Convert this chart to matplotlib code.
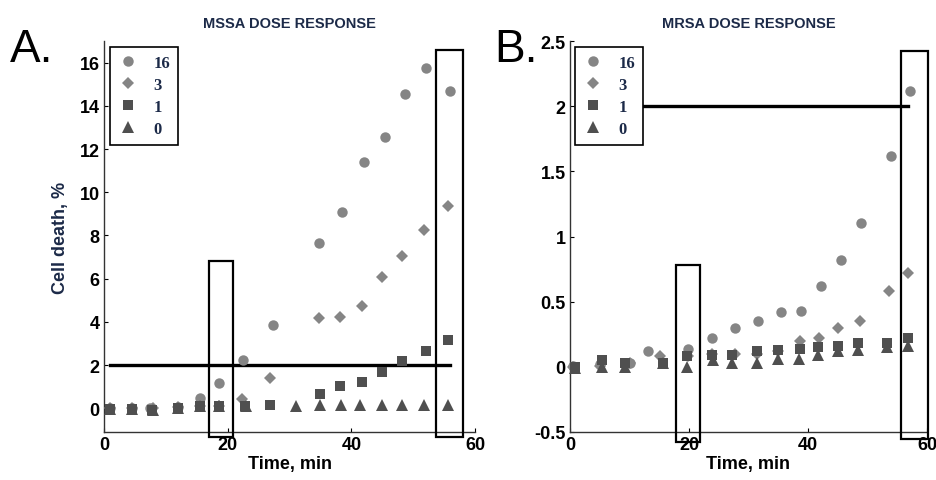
import matplotlib
matplotlib.use("Agg")
import matplotlib.pyplot as plt
from matplotlib.patches import Rectangle

# ---------------- Panel A: MSSA ----------------
a_t16 = [1, 4.5, 7.5, 12, 15.5, 18.6, 22.5, 27.3, 34.8, 38.5, 42.1, 45.5, 48.7, 52.1, 56.0]
a_v16 = [0.0, 0.0, 0.0, 0.05, 0.47, 1.16, 2.23, 3.86, 7.67, 9.07, 11.4, 12.56, 14.56, 15.77, 14.7]
a_t3 = [1, 4.5, 8, 12, 15.5, 18.6, 22.3, 26.9, 34.8, 38.2, 41.7, 45.0, 48.2, 51.8, 55.7]
a_v3 = [0.0, 0.0, 0.0, 0.05, 0.1, 0.1, 0.42, 1.40, 4.19, 4.23, 4.74, 6.09, 7.07, 8.23, 9.35]
a_t1 = [1, 4.5, 7.8, 12, 15.5, 18.6, 22.8, 26.9, 35.0, 38.2, 41.7, 45.0, 48.2, 52.1, 55.7]
a_v1 = [-0.05, -0.05, -0.1, 0.0, 0.1, 0.1, 0.1, 0.14, 0.65, 1.02, 1.21, 1.67, 2.19, 2.65, 3.16]
a_t0 = [1, 4.5, 8, 12, 15.5, 18.6, 23, 31.1, 35.0, 38.3, 41.4, 45.0, 48.2, 51.8, 55.7]
a_v0 = [-0.05, -0.05, -0.1, 0.0, 0.1, 0.1, 0.1, 0.1, 0.15, 0.15, 0.15, 0.15, 0.15, 0.15, 0.15]

# ---------------- Panel B: MRSA ----------------
b_t16 = [0.5, 5, 10.1, 13.1, 19.8, 23.9, 27.7, 31.6, 35.5, 38.8, 42.2, 45.5, 48.9, 53.9, 57.1]
b_v16 = [0.01, 0.02, 0.03, 0.12, 0.14, 0.22, 0.30, 0.35, 0.42, 0.43, 0.62, 0.82, 1.10, 1.62, 2.12]
b_t3 = [0.5, 5, 10, 15.1, 19.8, 23.9, 27.7, 31.4, 35.0, 38.7, 41.8, 45.0, 48.7, 53.6, 56.8]
b_v3 = [0.0, 0.01, 0.03, 0.08, 0.08, 0.1, 0.1, 0.1, 0.12, 0.20, 0.22, 0.30, 0.35, 0.58, 0.72]
b_t1 = [0.8, 5.4, 9.2, 15.6, 19.7, 23.9, 27.2, 31.4, 35.0, 38.7, 41.7, 45.0, 48.4, 53.3, 56.8]
b_v1 = [0.0, 0.05, 0.03, 0.03, 0.08, 0.09, 0.09, 0.12, 0.13, 0.14, 0.15, 0.16, 0.18, 0.18, 0.22]
b_t0 = [0.8, 5.4, 9.2, 15.6, 19.7, 24.0, 27.2, 31.4, 35.0, 38.5, 41.7, 45.0, 48.4, 53.3, 56.8]
b_v0 = [-0.01, 0.0, 0.0, 0.03, 0.0, 0.05, 0.03, 0.03, 0.06, 0.06, 0.09, 0.12, 0.13, 0.15, 0.16]

doses = ["16", "3", "1", "0"]
a_xticks = [0, 20, 40, 60]
a_yticks = [0, 2, 4, 6, 8, 10, 12, 14, 16]
b_xticks = [0, 20, 40, 60]
b_yticks = [-0.5, 0, 0.5, 1, 1.5, 2, 2.5]
b_yticklabels = ["-0.5", "0", "0.5", "1", "1.5", "2", "2.5"]

# highlight boxes: (t0, t1, v0, v1)
a_boxes = [(17.0, 20.9, -1.35, 6.8), (53.7, 58.1, -1.35, 16.6)]
b_boxes = [(17.8, 21.8, -0.58, 0.78), (55.6, 60.2, -0.55, 2.42)]
a_line = (1, 55.9, 2.0)
b_line = (1, 56.8, 2.0)

light = "#858585"
dark = "#4f4f4f"
navy = "#1c2a48"
styles = [
    dict(marker="o", color=light, ms=7.5),
    dict(marker="D", color=light, ms=6.5),
    dict(marker="s", color=dark, ms=6.5),
    dict(marker="^", color=dark, ms=8),
]

fig = plt.figure(figsize=(9.37, 4.81), dpi=100)
plt.rcParams["font.family"] = ["Liberation Sans", "DejaVu Sans"]


def panel(rect, series, xticks, yticks, yticklabels, ylim, boxes, line, title, letter, letter_x, ylabel, leg_x):
    ax = fig.add_axes(rect)
    for (t, v), st, lab in zip(series, styles, doses):
        ax.plot(t, v, linestyle="none", marker=st["marker"], color=st["color"],
                markersize=st["ms"], markeredgewidth=0, label=lab, clip_on=False, zorder=3)
    ax.plot([line[0], line[1]], [line[2], line[2]], color="black", lw=2.4, zorder=2)
    for (x0, x1, y0, y1) in boxes:
        ax.add_patch(Rectangle((x0, y0), x1 - x0, y1 - y0, fill=False, edgecolor="black",
                               lw=1.6, clip_on=False, zorder=4))
    ax.set_xlim(0, 60)
    ax.set_ylim(*ylim)
    ax.spines["top"].set_visible(False)
    ax.spines["right"].set_visible(False)
    for s in ("left", "bottom"):
        ax.spines[s].set_color("#333333")
        ax.spines[s].set_linewidth(1.0)
    ax.set_xticks(xticks)
    ax.set_yticks(yticks)
    if yticklabels is not None:
        ax.set_yticklabels(yticklabels)
    ax.tick_params(direction="in", length=3, width=0.8, labelsize=13, pad=3)
    for lbl in ax.get_xticklabels() + ax.get_yticklabels():
        lbl.set_fontweight("bold")
    ax.set_xlabel("Time, min", fontsize=13, fontweight="bold", labelpad=1)
    if ylabel:
        ax.set_ylabel(ylabel, fontsize=13, fontweight="bold", color=navy, labelpad=8)
    ax.set_title(title, fontsize=10.5, fontweight="bold", color=navy, pad=10)
    leg = ax.legend(loc="upper left", bbox_to_anchor=(leg_x, 0.985), borderaxespad=0,
                    frameon=True, fancybox=False, framealpha=1.0,
                    edgecolor="black", handlelength=1.2, handletextpad=0.9, borderpad=0.5,
                    labelspacing=0.35, prop=dict(family="Liberation Serif", weight="bold", size=12))
    leg.get_frame().set_linewidth(1.2)
    leg.set_zorder(5)
    for txt in leg.get_texts():
        txt.set_color(navy)
    fig.text(letter_x, 0.872, letter, fontsize=33, ha="left", va="baseline")
    return ax


panel([104 / 937, 48 / 481, 371 / 937, 391 / 481],
      [(a_t16, a_v16), (a_t3, a_v3), (a_t1, a_v1), (a_t0, a_v0)],
      a_xticks, a_yticks, None, (-1.1, 17.0), a_boxes, a_line,
      "MSSA DOSE RESPONSE", "A.", 10 / 937, "Cell death, %", 0.016)

panel([570 / 937, 48 / 481, 357 / 937, 391 / 481],
      [(b_t16, b_v16), (b_t3, b_v3), (b_t1, b_v1), (b_t0, b_v0)],
      b_xticks, b_yticks, b_yticklabels, (-0.5, 2.5), b_boxes, b_line,
      "MRSA DOSE RESPONSE", "B.", 494 / 937, None, 0.014)

fig.savefig("out.png", dpi=100)
